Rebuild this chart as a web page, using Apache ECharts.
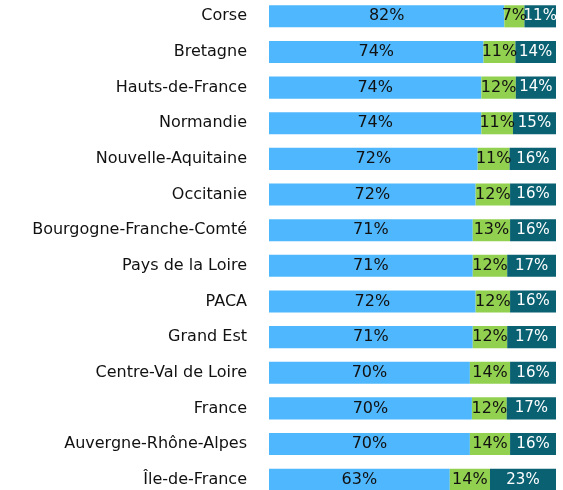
<!DOCTYPE html>
<html><head><meta charset="utf-8">
<script src="https://cdn.jsdelivr.net/npm/echarts@6/dist/echarts.min.js"></script>
<style>html,body{margin:0;padding:0;background:#fff}#c{width:563px;height:490px}</style>
</head><body><div id="c"></div>
<script>
var categories = ["Corse","Bretagne","Hauts-de-France","Normandie","Nouvelle-Aquitaine","Occitanie","Bourgogne-Franche-Comté","Pays de la Loire","PACA","Grand Est","Centre-Val de Loire","France","Auvergne-Rhône-Alpes","Île-de-France"];
var seriesA = [82,74,74,74,72,72,71,71,72,71,70,70,70,63];
var seriesB = [7,11,12,11,11,12,13,12,12,12,14,12,14,14];
var seriesC = [11,14,14,15,16,16,16,17,16,17,16,17,16,23];

function norm(arr, i){ var s = seriesA[i]+seriesB[i]+seriesC[i]; return arr[i]/s*100; }
function build(arr){ return arr.map(function(v,i){ return {value: norm(arr,i), raw: v}; }); }

var chart = echarts.init(document.getElementById('c'));
var lblBase = {show:true, position:'inside', fontFamily:'DejaVu Sans', fontSize:16,
  formatter:function(p){return p.data.raw+'%';}};
chart.setOption({
  animation:false,
  grid:{left:269, right:7, top:-1.5, height:499, containLabel:false, outerBoundsMode:'none'},
  xAxis:{type:'value', min:0, max:100, show:false},
  yAxis:{type:'category', inverse:true, data:categories,
    axisLine:{show:false}, axisTick:{show:false},
    axisLabel:{margin:22, fontFamily:'DejaVu Sans', fontSize:16, color:'#111'}},
  series:[
    {type:'bar', stack:'t', data:build(seriesA), barCategoryGap:'38%',
     itemStyle:{color:'#4FB7FD'}, label:Object.assign({}, lblBase, {color:'#111'})},
    {type:'bar', stack:'t', data:build(seriesB),
     itemStyle:{color:'#92D050'}, label:Object.assign({}, lblBase, {color:'#111'})},
    {type:'bar', stack:'t', data:build(seriesC),
     itemStyle:{color:'#0A6172'}, label:Object.assign({}, lblBase, {color:'#fff', fontSize:15})}
  ]
});
</script></body></html>
